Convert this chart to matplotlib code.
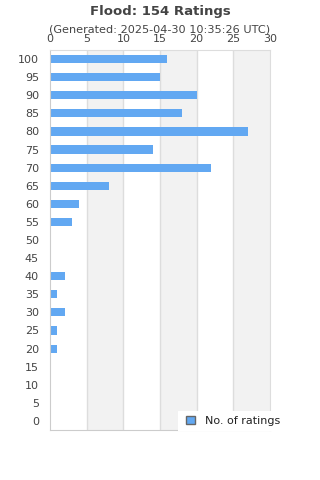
import matplotlib
matplotlib.use("Agg")
import matplotlib.pyplot as plt
from matplotlib.patches import Patch

categories = [0, 5, 10, 15, 20, 25, 30, 35, 40, 45, 50, 55, 60, 65, 70, 75, 80, 85, 90, 95, 100]
counts = [0, 0, 0, 0, 1, 1, 2, 1, 2, 0, 0, 3, 4, 8, 22, 14, 27, 18, 20, 15, 16]
x_ticks = [0, 5, 10, 15, 20, 25, 30]
title = "Flood: 154 Ratings"
subtitle = "(Generated: 2025-04-30 10:35:26 UTC)"
series_name = "No. of ratings"

fig = plt.figure(figsize=(3.2, 4.8), dpi=100)
ax = fig.add_axes([50/320, 1-430/480, 220/320, 380/480])

bar_color = "#62a8f2"
grid_color = "#dddddd"
text_color = "#444444"

for i in range(len(x_ticks) - 1):
    if i % 2 == 1:
        ax.axvspan(x_ticks[i], x_ticks[i+1], color="#f2f2f2", zorder=0, lw=0)
for t in x_ticks[1:-1]:
    ax.axvline(t, color=grid_color, lw=1, zorder=1)

ypos = list(range(len(categories)))
ax.barh(ypos, counts, height=0.45, color=bar_color, zorder=2)

ax.set_xlim(0, 30)
ax.set_ylim(-0.5, len(categories) - 0.5)
ax.set_yticks(ypos)
ax.set_yticklabels([str(c) for c in categories], fontsize=8, color=text_color)
ax.set_xticks(x_ticks)
ax.set_xticklabels([str(t) for t in x_ticks], fontsize=8, color=text_color)
ax.xaxis.tick_top()
ax.tick_params(axis="x", length=0, pad=4.5)
ax.tick_params(axis="y", length=0, pad=8)

for s in ["top", "right", "left", "bottom"]:
    ax.spines[s].set_color("#dddddd")
ax.spines["left"].set_color("#cccccc")
ax.spines["bottom"].set_color("#cccccc")

fig.text(0.5, 1-11/480, title, ha="center", va="center", fontsize=9.5, fontweight="bold", color="#444444")
fig.text(0.5, 1-30/480, subtitle, ha="center", va="center", fontsize=8.1, color="#444444")

leg_ax = fig.add_axes([178/320, 1-431/480, 142/320, 20/480])
leg_ax.set_axis_off()
leg_ax.add_patch(plt.Rectangle((0, 0), 1, 1, transform=leg_ax.transAxes, color="white", zorder=0))
leg = leg_ax.legend(handles=[Patch(facecolor=bar_color, edgecolor="#666666", label=series_name)],
                    loc="center left", bbox_to_anchor=(0.0, 0.5), frameon=False, fontsize=8,
                    handlelength=0.8, handleheight=0.8, handletextpad=0.9, borderaxespad=0.3)
for t in leg.get_texts():
    t.set_color("#222222")

fig.savefig("out.png", dpi=100)
